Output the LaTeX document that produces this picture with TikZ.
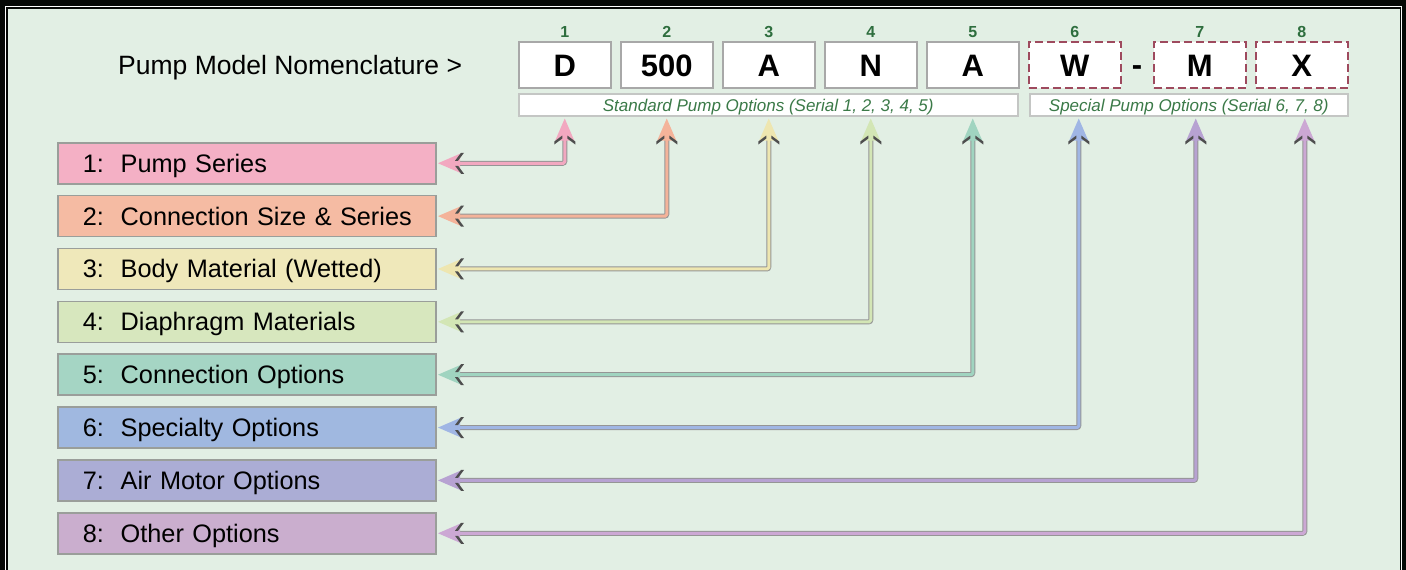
\documentclass[tikz,border=0pt]{standalone}
\usepackage{fontspec}
\setmainfont{Liberation Sans}
\usetikzlibrary{calc}
\definecolor{bgblack}{HTML}{060906}
\definecolor{panel}{HTML}{E2EFE4}
\definecolor{codegray}{HTML}{A8A8A8}
\definecolor{lblgray}{HTML}{9A9E9A}
\definecolor{bandgray}{HTML}{C4C6C4}
\definecolor{dashred}{HTML}{9E4A5E}
\definecolor{numgreen}{HTML}{2E6E3E}
\definecolor{itgreen}{HTML}{3B7A48}
\definecolor{shaftgray}{HTML}{959595}
\definecolor{headdark}{HTML}{4E4E4E}
\definecolor{f1}{HTML}{F4B0C5}
\definecolor{f2}{HTML}{F5BBA3}
\definecolor{f3}{HTML}{EFE8BA}
\definecolor{f4}{HTML}{D7E7BE}
\definecolor{f5}{HTML}{A5D5C4}
\definecolor{f6}{HTML}{A0B8E0}
\definecolor{f7}{HTML}{ABADD5}
\definecolor{f8}{HTML}{CAAECE}
\definecolor{a1}{HTML}{F2A8C0}
\definecolor{a2}{HTML}{F4B39A}
\definecolor{a3}{HTML}{EEE6B0}
\definecolor{a4}{HTML}{D3E6B5}
\definecolor{a5}{HTML}{A0D4C0}
\definecolor{a6}{HTML}{A0B6E4}
\definecolor{a7}{HTML}{B7A2D2}
\definecolor{a8}{HTML}{CCA8D4}
\newcommand\arrhead[1]{\fill[#1] (0,0)--(-22,-9.5)--(-22,9.5)--cycle;
  \fill[headdark] (-26,-10.5)--(-23,-10.5)--(-17,-2.5)--(-20,-2.5)--cycle;
  \fill[headdark] (-26,10.5)--(-23,10.5)--(-17,2.5)--(-20,2.5)--cycle;}
\tikzset{
  codebox/.style={draw=codegray, line width=1.5pt, fill=white, minimum width=92pt,
    minimum height=46pt, inner sep=0pt, anchor=north west,
    font=\fontsize{31}{31}\selectfont\bfseries, text height=22.5pt, text depth=0pt},
  specbox/.style={codebox, draw=dashred, dash pattern=on 8pt off 4pt},
  numlbl/.style={inner sep=0pt, text=numgreen, font=\fontsize{16}{16}\selectfont\bfseries,
    text height=11.5pt, text depth=0pt},
  band/.style={draw=bandgray, line width=1.5pt, fill=white, minimum height=22pt,
    inner sep=0pt, anchor=north west, text=itgreen,
    font=\fontsize{17}{17}\selectfont\itshape, text height=12.5pt, text depth=0pt},
  lblbox/.style={draw=lblgray, line width=1.5pt, minimum height=41pt, text width=328pt,
    inner xsep=25pt, inner ysep=0pt, align=left, anchor=north west,
    font=\fontsize{25.3}{30}\selectfont, text height=18pt, text depth=0pt},
  titlenode/.style={inner sep=0pt, anchor=west, font=\fontsize{26.5}{30}\selectfont,
    text height=19pt, text depth=0pt}
}
\begin{document}
\begin{tikzpicture}[x=1pt,y=-1pt]
\useasboundingbox (0,0) rectangle (1406,570);
\begin{scope}
\clip (0,0) rectangle (1406,570);
\fill[bgblack] (0,0) rectangle (1406,570);
\draw[white, line width=1.2pt] (5.6,6.6) rectangle (1401.6,600);
\fill[panel] (8,9) rectangle (1399.5,600);
\end{scope}

\node[titlenode] (title) at (118,64.5) {Pump Model Nomenclature >};

\node[codebox] (C1) at (518,41) {D};
\node[codebox] (C2) at (620,41) {500};
\node[codebox] (C3) at (722,41) {A};
\node[codebox] (C4) at (824,41) {N};
\node[codebox] (C5) at (926,41) {A};
\node[specbox] (C6) at (1028,41) {W};
\node[specbox] (C7) at (1153,41) {M};
\node[specbox] (C8) at (1255,41) {X};
\node[inner sep=0pt, font=\fontsize{31}{31}\selectfont\bfseries, text height=22.5pt, text depth=0pt] (hy) at (1137,64) {-};

\foreach \i in {1,...,8}{
  \node[numlbl] (N\i) at ($(C\i.north)+(0,-9.5)$) {\i};
}

\node[band, minimum width=499pt] (std) at (518,93) {Standard Pump Options (Serial 1, 2, 3, 4, 5)};
\node[band, minimum width=318pt] (spc) at (1029,93) {Special Pump Options (Serial 6, 7, 8)};

\foreach \i/\txt/\fc in {1/{1:\ \ Pump Series}/f1, 2/{2:\ \ Connection Size \& Series}/f2,
  3/{3:\ \ Body Material (Wetted)}/f3, 4/{4:\ \ Diaphragm Materials}/f4,
  5/{5:\ \ Connection Options}/f5, 6/{6:\ \ Specialty Options}/f6,
  7/{7:\ \ Air Motor Options}/f7, 8/{8:\ \ Other Options}/f8}{
  \node[lblbox, fill=\fc] (L\i) at (57,{142+(\i-1)*52.86}) {\mbox{\txt}};
}

\foreach \i/\dx/\ac in {1/0/a1, 2/0/a2, 3/0/a3, 4/0/a4, 5/0/a5, 6/4/a6, 7/-4/a7, 8/3/a8}{
  \coordinate (s\i) at ($(L\i.east)+(1.5,0)$);
  \coordinate (t\i) at ($(C\i.center |- std.south)+(\dx,2)$);
  \draw[line width=5pt, draw=shaftgray, rounded corners=2pt] ($(s\i)+(19,0)$) -| ($(t\i)+(0,19)$);
  \draw[line width=3pt, draw=\ac, rounded corners=1.5pt] ($(s\i)+(19,0)$) -| ($(t\i)+(0,19)$);
  \begin{scope}[shift={(s\i)}, x=1pt, y=1pt, rotate=180] \arrhead{\ac} \end{scope}
  \begin{scope}[shift={(t\i)}, x=1pt, y=1pt, rotate=90] \arrhead{\ac} \end{scope}
}
\end{tikzpicture}
\end{document}
